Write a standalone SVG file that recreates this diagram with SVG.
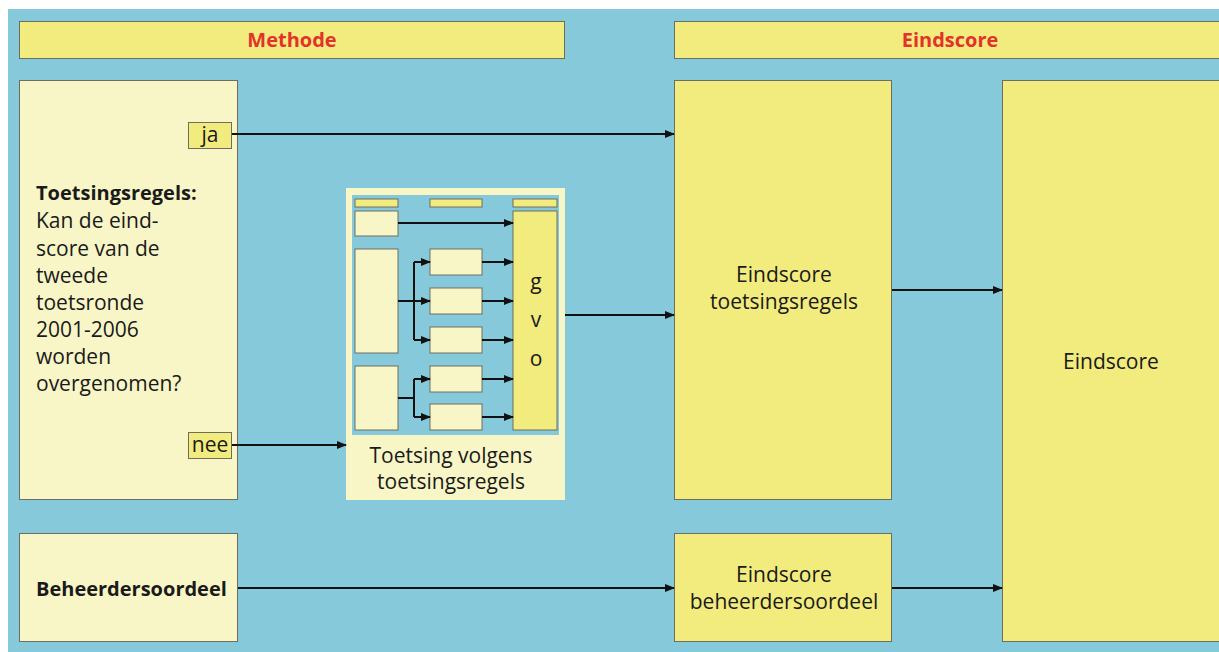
<svg xmlns="http://www.w3.org/2000/svg" width="1219" height="652" viewBox="0 0 1219 652">
<defs>
<marker id="ah" markerWidth="10" markerHeight="8" refX="9" refY="4" orient="auto" markerUnits="userSpaceOnUse">
<path d="M0,0 L10,4 L0,8 Z" fill="#111"/>
</marker>
<style>
.bg{fill:#85c9da}
.ly{fill:#f8f6c6;stroke:#6e6e5e;stroke-width:1}
.yy{fill:#f2ec7f;stroke:#6e6e5e;stroke-width:1}
.t{font-family:"Open Sans","Noto Sans",sans-serif;font-size:21px;fill:#1a1a1a}
.b{font-weight:bold;font-size:20px}
.h{font-family:"Open Sans","Noto Sans",sans-serif;font-size:20px;font-weight:bold;fill:#e2322a}
.c{text-anchor:middle}
.ln{stroke:#111;stroke-width:2;fill:none}
.la{stroke:#111;stroke-width:2;fill:none;marker-end:url(#ah)}
</style>
</defs>
<rect x="0" y="0" width="1219" height="652" fill="#fff"/>
<rect class="bg" x="8" y="9" width="1211" height="643"/>

<g id="header-methode">
<rect class="yy" x="19.5" y="21.5" width="545" height="37"/>
<text class="h c" x="292" y="47">Methode</text>
</g>
<g id="header-eindscore">
<rect class="yy" x="674.5" y="21.5" width="560" height="37"/>
<text class="h c" x="950" y="47">Eindscore</text>
</g>

<g id="toetsingsregels">
<rect class="ly" x="19.5" y="80.5" width="218" height="419"/>
<text class="t b" x="36" y="200">Toetsingsregels:</text>
<text class="t" x="36" y="228">Kan de eind-</text>
<text class="t" x="36" y="256">score van de</text>
<text class="t" x="36" y="283">tweede</text>
<text class="t" x="36" y="310">toetsronde</text>
<text class="t" x="36" y="337">2001-2006</text>
<text class="t" x="36" y="364">worden</text>
<text class="t" x="36" y="391">overgenomen?</text>
</g>
<g id="ja">
<rect class="yy" x="188.5" y="122.5" width="43" height="26"/>
<text class="t c" x="210" y="142">ja</text>
</g>
<g id="nee">
<rect class="yy" x="188.5" y="432.5" width="43" height="26"/>
<text class="t c" x="210" y="452">nee</text>
</g>

<g id="beheerdersoordeel">
<rect class="ly" x="19.5" y="533.5" width="218" height="108"/>
<text class="t b" x="36" y="596">Beheerdersoordeel</text>
</g>

<g id="toetsing-volgens">
<rect x="346" y="188" width="219" height="312" fill="#f8f6c6"/>
<rect class="bg" x="352" y="195" width="207" height="240"/>
<rect class="yy" x="355" y="199" width="43" height="8"/>
<rect class="yy" x="430" y="199" width="52" height="8"/>
<rect class="yy" x="513" y="199" width="44" height="8"/>
<rect class="ly" x="355" y="211" width="43" height="25"/>
<rect class="ly" x="355" y="249" width="43" height="104"/>
<rect class="ly" x="355" y="366" width="43" height="64"/>
<rect class="ly" x="430" y="249" width="52" height="26"/>
<rect class="ly" x="430" y="288" width="52" height="26"/>
<rect class="ly" x="430" y="327" width="52" height="26"/>
<rect class="ly" x="430" y="366" width="52" height="26"/>
<rect class="ly" x="430" y="404" width="52" height="26"/>
<rect class="yy" x="513" y="211" width="44" height="219"/>
<text class="t c" x="536" y="289">g</text>
<text class="t c" x="536" y="327">v</text>
<text class="t c" x="536" y="366">o</text>
<text class="t c" x="451" y="463">Toetsing volgens</text>
<text class="t c" x="451" y="489">toetsingsregels</text>
<g class="mini-connectors">
<line class="la" x1="398" y1="223" x2="513" y2="223"/>
<line class="ln" x1="398" y1="301" x2="414" y2="301"/>
<line class="ln" x1="414" y1="262" x2="414" y2="340"/>
<line class="la" x1="414" y1="262" x2="430" y2="262"/>
<line class="la" x1="414" y1="301" x2="430" y2="301"/>
<line class="la" x1="414" y1="340" x2="430" y2="340"/>
<line class="ln" x1="398" y1="398" x2="414" y2="398"/>
<line class="ln" x1="414" y1="379" x2="414" y2="417"/>
<line class="la" x1="414" y1="379" x2="430" y2="379"/>
<line class="la" x1="414" y1="417" x2="430" y2="417"/>
<line class="la" x1="482" y1="262" x2="513" y2="262"/>
<line class="la" x1="482" y1="301" x2="513" y2="301"/>
<line class="la" x1="482" y1="340" x2="513" y2="340"/>
<line class="la" x1="482" y1="379" x2="513" y2="379"/>
<line class="la" x1="482" y1="417" x2="513" y2="417"/>
</g>
</g>

<g id="eindscore-toetsingsregels">
<rect class="yy" x="674.5" y="80.5" width="217" height="419"/>
<text class="t c" x="784" y="282">Eindscore</text>
<text class="t c" x="784" y="309">toetsingsregels</text>
</g>
<g id="eindscore-beheerdersoordeel">
<rect class="yy" x="674.5" y="533.5" width="217" height="108"/>
<text class="t c" x="784" y="582">Eindscore</text>
<text class="t c" x="784" y="609">beheerdersoordeel</text>
</g>
<g id="eindscore">
<rect class="yy" x="1002.5" y="80.5" width="230" height="561"/>
<text class="t c" x="1111" y="369">Eindscore</text>
</g>

<g id="connectors">
<line class="la" x1="232" y1="134" x2="674" y2="134"/>
<line class="la" x1="232" y1="445" x2="346" y2="445"/>
<line class="la" x1="565" y1="315" x2="674" y2="315"/>
<line class="la" x1="238" y1="588" x2="674" y2="588"/>
<line class="la" x1="892" y1="290" x2="1002" y2="290"/>
<line class="la" x1="892" y1="588" x2="1002" y2="588"/>
</g>
</svg>
